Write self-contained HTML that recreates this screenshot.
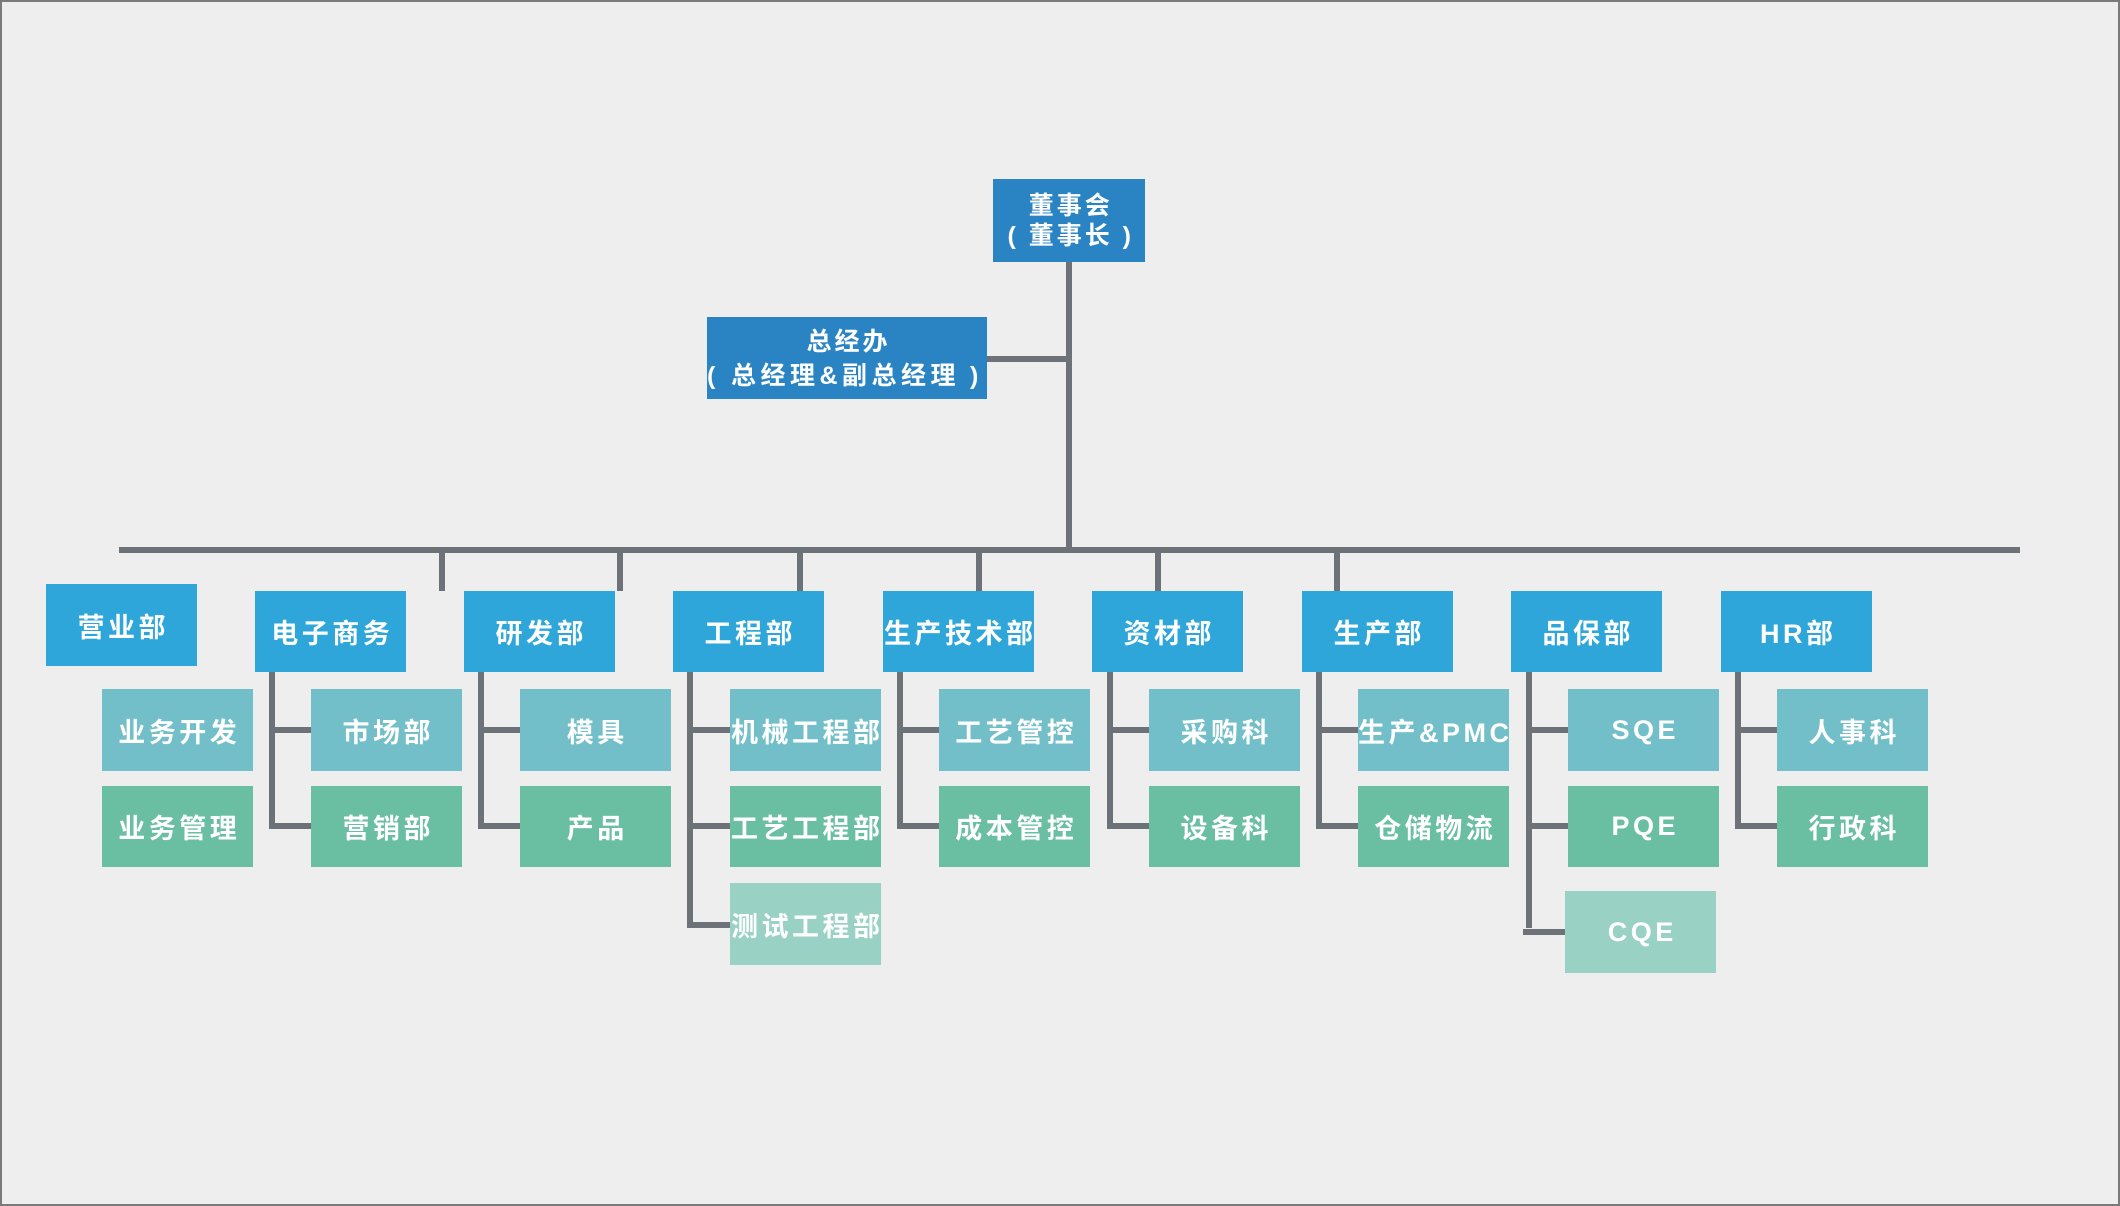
<!DOCTYPE html>
<html>
<head>
<meta charset="utf-8">
<style>
html,body{margin:0;padding:0;}
body{width:2120px;height:1206px;background:#eeeeee;position:relative;overflow:hidden;font-family:"Liberation Sans","Noto Sans CJK SC",sans-serif;}
.frame{position:absolute;left:0;top:0;width:2116px;height:1202px;border:2px solid #7a7a7a;}
.b{position:absolute;display:flex;align-items:center;justify-content:center;color:#fff;font-weight:700;font-size:27px;letter-spacing:3.5px;white-space:nowrap;overflow:visible;text-indent:3.5px;}
.top{background:#2a84c4;font-size:25px;letter-spacing:3px;flex-direction:column;line-height:30px;}
.d{background:#2ea6da;width:151px;height:81px;top:591px;}
.r1{background:#72bfca;width:151px;height:82px;top:689px;}
.r2{background:#6abea1;width:151px;height:81px;top:786px;}
.r3{background:#9ad1c5;width:151px;height:82px;top:883px;}
.l{position:absolute;background:#6c7277;}
.gm{position:absolute;left:707px;top:317px;width:280px;height:82px;background:#2a84c4;color:#fff;font-weight:700;white-space:nowrap;}
.gm span{position:absolute;display:block;}
</style>
</head>
<body>
<div class="frame"></div>

<!-- connectors -->
<div class="l" style="left:1066px;top:262px;width:6px;height:291px;"></div>
<div class="l" style="left:987px;top:356px;width:82px;height:6px;"></div>
<div class="l" style="left:119px;top:547px;width:1901px;height:6px;"></div>

<div class="l" style="left:439px;top:550px;width:6px;height:41px;"></div>
<div class="l" style="left:617px;top:550px;width:6px;height:41px;"></div>
<div class="l" style="left:797px;top:550px;width:6px;height:41px;"></div>
<div class="l" style="left:976px;top:550px;width:6px;height:41px;"></div>
<div class="l" style="left:1155px;top:550px;width:6px;height:41px;"></div>
<div class="l" style="left:1334px;top:550px;width:6px;height:41px;"></div>

<!-- 电子商务 -->
<div class="l" style="left:269px;top:672px;width:6px;height:157px;"></div>
<div class="l" style="left:269px;top:727px;width:42px;height:6px;"></div>
<div class="l" style="left:269px;top:823px;width:42px;height:6px;"></div>
<!-- 研发部 -->
<div class="l" style="left:478px;top:672px;width:6px;height:157px;"></div>
<div class="l" style="left:478px;top:727px;width:42px;height:6px;"></div>
<div class="l" style="left:478px;top:823px;width:42px;height:6px;"></div>
<!-- 工程部 -->
<div class="l" style="left:687px;top:672px;width:6px;height:256px;"></div>
<div class="l" style="left:687px;top:727px;width:43px;height:6px;"></div>
<div class="l" style="left:687px;top:823px;width:43px;height:6px;"></div>
<div class="l" style="left:687px;top:922px;width:43px;height:6px;"></div>
<!-- 生产技术部 -->
<div class="l" style="left:897px;top:672px;width:6px;height:157px;"></div>
<div class="l" style="left:897px;top:727px;width:42px;height:6px;"></div>
<div class="l" style="left:897px;top:823px;width:42px;height:6px;"></div>
<!-- 资材部 -->
<div class="l" style="left:1107px;top:672px;width:6px;height:157px;"></div>
<div class="l" style="left:1107px;top:727px;width:42px;height:6px;"></div>
<div class="l" style="left:1107px;top:823px;width:42px;height:6px;"></div>
<!-- 生产部 -->
<div class="l" style="left:1316px;top:672px;width:6px;height:157px;"></div>
<div class="l" style="left:1316px;top:727px;width:42px;height:6px;"></div>
<div class="l" style="left:1316px;top:823px;width:42px;height:6px;"></div>
<!-- 品保部 -->
<div class="l" style="left:1526px;top:672px;width:6px;height:256px;"></div>
<div class="l" style="left:1526px;top:727px;width:42px;height:6px;"></div>
<div class="l" style="left:1526px;top:823px;width:42px;height:6px;"></div>
<div class="l" style="left:1523px;top:929px;width:42px;height:6px;"></div>
<!-- HR部 -->
<div class="l" style="left:1735px;top:672px;width:6px;height:157px;"></div>
<div class="l" style="left:1735px;top:727px;width:42px;height:6px;"></div>
<div class="l" style="left:1735px;top:823px;width:42px;height:6px;"></div>

<!-- top boxes -->
<div class="b top" style="left:993px;top:179px;width:152px;height:83px;">
  <div>董事会</div>
  <div>(&nbsp;董事长&nbsp;)</div>
</div>
<div class="gm">
  <span style="left:0;width:280px;top:9px;text-align:center;font-size:25px;line-height:32px;letter-spacing:3px;text-indent:3px;">总经办</span>
  <span style="left:0;top:43px;font-size:25px;line-height:32px;">(</span>
  <span style="left:24px;top:43px;font-size:25px;line-height:32px;letter-spacing:4.5px;">总经理&amp;副总经理</span>
  <span style="left:263px;top:43px;font-size:25px;line-height:32px;">)</span>
</div>

<!-- departments -->
<div class="b d" style="left:46px;top:584px;height:82px;">营业部</div>
<div class="b d" style="left:255px;">电子商务</div>
<div class="b d" style="left:464px;">研发部</div>
<div class="b d" style="left:673px;">工程部</div>
<div class="b d" style="left:883px;">生产技术部</div>
<div class="b d" style="left:1092px;">资材部</div>
<div class="b d" style="left:1302px;">生产部</div>
<div class="b d" style="left:1511px;">品保部</div>
<div class="b d" style="left:1721px;">HR部</div>

<!-- row 1 -->
<div class="b r1" style="left:102px;">业务开发</div>
<div class="b r1" style="left:311px;">市场部</div>
<div class="b r1" style="left:520px;">模具</div>
<div class="b r1" style="left:730px;">机械工程部</div>
<div class="b r1" style="left:939px;">工艺管控</div>
<div class="b r1" style="left:1149px;">采购科</div>
<div class="b r1" style="left:1358px;">生产&amp;PMC</div>
<div class="b r1" style="left:1568px;">SQE</div>
<div class="b r1" style="left:1777px;">人事科</div>

<!-- row 2 -->
<div class="b r2" style="left:102px;">业务管理</div>
<div class="b r2" style="left:311px;">营销部</div>
<div class="b r2" style="left:520px;">产品</div>
<div class="b r2" style="left:730px;">工艺工程部</div>
<div class="b r2" style="left:939px;">成本管控</div>
<div class="b r2" style="left:1149px;">设备科</div>
<div class="b r2" style="left:1358px;">仓储物流</div>
<div class="b r2" style="left:1568px;">PQE</div>
<div class="b r2" style="left:1777px;">行政科</div>

<!-- row 3 -->
<div class="b r3" style="left:730px;">测试工程部</div>
<div class="b r3" style="left:1565px;top:891px;">CQE</div>
</body>
</html>
